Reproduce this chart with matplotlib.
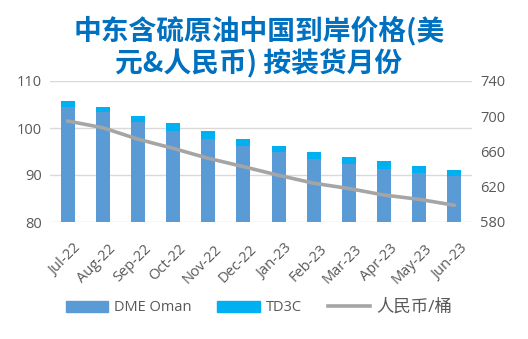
import matplotlib
matplotlib.use("Agg")
import matplotlib.pyplot as plt
import numpy as np
from matplotlib.patches import Patch
from matplotlib.lines import Line2D
from matplotlib.transforms import ScaledTranslation

plt.rcParams['font.family'] = ['Open Sans', 'Noto Sans CJK SC', 'DejaVu Sans']

months = ["Jul-22", "Aug-22", "Sep-22", "Oct-22", "Nov-22", "Dec-22",
          "Jan-23", "Feb-23", "Mar-23", "Apr-23", "May-23", "Jun-23"]
dme_oman = [104.4, 103.3, 101.3, 99.4, 97.7, 96.1, 95.0, 93.5, 92.3, 91.3, 90.4, 89.8]
td3c = [1.3, 1.1, 1.2, 1.6, 1.7, 1.6, 1.2, 1.4, 1.6, 1.7, 1.6, 1.3]
rmb_per_bbl = [694.6, 687.0, 674.0, 663.6, 652.3, 642.8, 633.0, 624.0, 618.0, 610.6, 605.7, 599.0]

c_dme = "#5B9BD5"
c_td3c = "#00B0F0"
c_line = "#A5A5A5"
c_text = "#595959"
c_title = "#0070C0"

fig = plt.figure(figsize=(5.28, 3.39), dpi=100)
ax = fig.add_axes([50/528, 1-222/339, 422/528, 141/339])
x = np.arange(len(months))

ax.bar(x, dme_oman, width=0.4, color=c_dme, zorder=2)
ax.bar(x, td3c, width=0.4, bottom=dme_oman, color=c_td3c, zorder=2)

ax.set_ylim(80, 110)
ax.set_yticks([80, 90, 100, 110])
ax.set_xlim(-0.5, len(months) - 0.5)
ax.set_xticks(x)
ax.set_xticklabels(months, rotation=45, ha="right", rotation_mode="anchor")
ax.grid(axis="y", color="#D9D9D9", linewidth=1.0, zorder=0)
ax.set_axisbelow(True)
for s in ax.spines.values():
    s.set_visible(False)
ax.tick_params(axis="both", length=0, colors=c_text, labelsize=10.5, pad=6)
ax.tick_params(axis="x", pad=14)
shift = ScaledTranslation(4/72, 0, fig.dpi_scale_trans)
for lbl in ax.get_xticklabels():
    lbl.set_transform(lbl.get_transform() + shift)

ax2 = ax.twinx()
ax2.plot(x, rmb_per_bbl, color=c_line, linewidth=2.6, solid_capstyle="round",
         solid_joinstyle="round", zorder=3)
ax2.set_ylim(580, 740)
ax2.set_yticks([580, 620, 660, 700, 740])
for s in ax2.spines.values():
    s.set_visible(False)
ax2.tick_params(axis="y", length=0, colors=c_text, labelsize=10.5, pad=6)

fig.text(0.49, 0.862, "中东含硫原油中国到岸价格(美\n元&人民币) 按装货月份",
         ha="center", va="center", fontsize=20, fontweight="bold", color=c_title,
         family=['Noto Sans CJK SC', 'DejaVu Sans'], linespacing=1.15)

handles = [Patch(color=c_dme), Patch(color=c_td3c),
           Line2D([0], [0], color=c_line, linewidth=2.6)]
labels = ["DME Oman", "TD3C", "人民币/桶"]
leg = fig.legend(handles, labels, loc="center", bbox_to_anchor=(0.49, 0.094),
                 ncol=3, frameon=False, handlelength=2.9,
                 handleheight=0.8, columnspacing=1.8, handletextpad=0.4,
                 prop={'family': ['Open Sans', 'Noto Sans CJK SC'], 'size': 10.5})
for t in leg.get_texts():
    t.set_color(c_text)
leg.get_texts()[2].set_fontsize(12.5)

fig.savefig("out.png", dpi=100)
